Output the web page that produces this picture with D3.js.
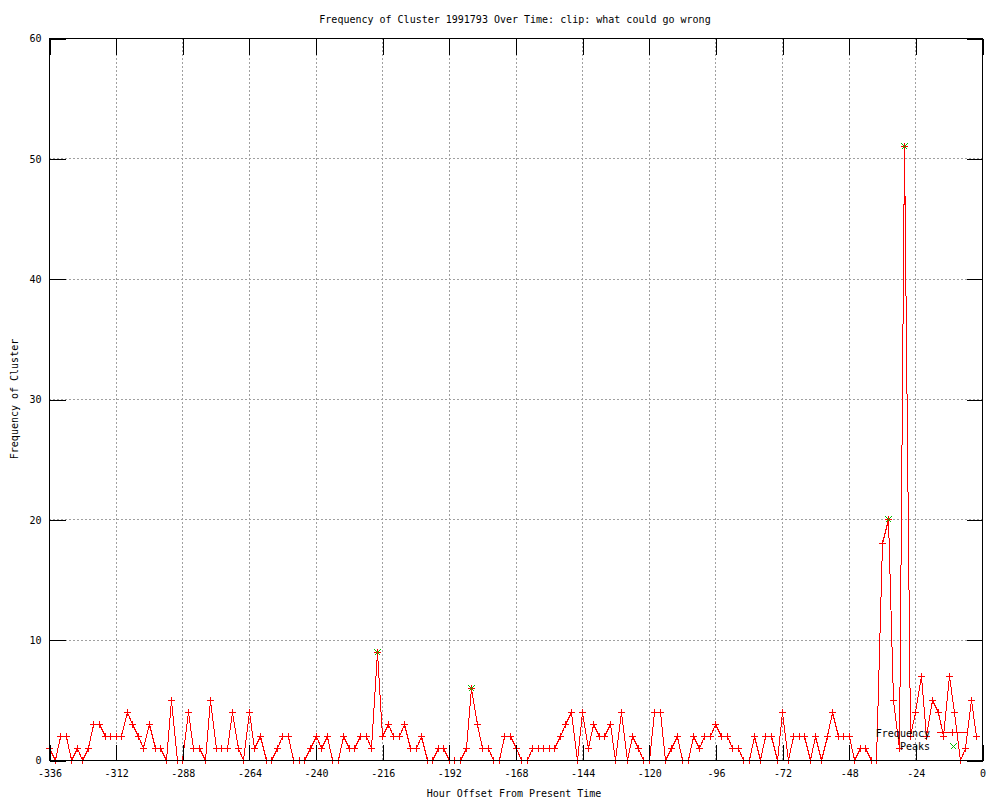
<!DOCTYPE html>
<html>
<head>
<meta charset="utf-8">
<script src="https://cdn.jsdelivr.net/npm/d3@7/dist/d3.min.js"></script>
<style>
  body { margin: 0; background: #fff; }
  text { font-family: "DejaVu Sans Mono", monospace; font-size: 10px; fill: #000; }
</style>
</head>
<body>
<svg id="chart" width="1000" height="800"></svg>
<script>
// data (one value every 2 hours, from -336 up to -2)
var startHour = -336;
var stepHours = 2;
var counts = [
  1, 0, 2, 2, 0, 1, 0, 1, 3, 3, 2, 2, 2, 2, 4, 3, 2, 1, 3, 1, 1, 0, 5, 0, 0, 4, 1, 1, 0, 5,
  1, 1, 1, 4, 1, 0, 4, 1, 2, 0, 0, 1, 2, 2, 0, 0, 0, 1, 2, 1, 2, 0, 0, 2, 1, 1, 2, 2,
  1, 9, 2, 3, 2, 2, 3, 1, 1, 2, 0, 0, 1, 1, 0, 0, 0, 1, 6, 3, 1, 1, 0, 0, 2, 2, 1, 0, 0,
  1, 1, 1, 1, 1, 2, 3, 4, 0, 4, 1, 3, 2, 2, 3, 0, 4, 0, 2, 1, 0, 0, 4, 4, 0, 1, 2, 0,
  0, 2, 1, 2, 2, 3, 2, 2, 1, 1, 0, 0, 2, 0, 2, 2, 0, 4, 0, 2, 2, 2, 0, 2, 0, 2, 4, 2, 2, 2,
  0, 1, 1, 0, 0, 18, 20, 5, 1, 51, 2, 4, 7, 2, 5, 4, 2, 7, 4, 0, 1, 5, 2
];
var peakHours = [-218, -184, -34, -28];
var peakCounts = [9, 6, 20, 51];
var xTicks = [-336, -312, -288, -264, -240, -216, -192, -168, -144, -120, -96, -72, -48, -24, 0];
var yTicks = [0, 10, 20, 30, 40, 50, 60];
var seriesNames = ["Frequency", "Peaks"];

var frequency = counts.map((c, i) => ({ h: startHour + i * stepHours, v: c }));
var peaks = peakHours.map((h, i) => ({ h: h, v: peakCounts[i] }));

var plotLeft = 49, plotRight = 982, plotTop = 38, plotBottom = 760;
var tickLen = 16;

var svg = d3.select("#chart");
var x = d3.scaleLinear().domain([-336, 0]).range([plotLeft, plotRight]);
var y = d3.scaleLinear().domain([0, 60]).range([plotBottom, plotTop]);
var px = (d) => Math.round(x(d)) + 0.5;
var py = (d) => Math.round(y(d)) + 0.5;

// grid
var grid = svg.append("g")
  .attr("stroke", "#a0a0a0")
  .attr("stroke-dasharray", "2,2")
  .attr("shape-rendering", "crispEdges");
grid.selectAll(".gx")
  .data(xTicks.slice(1, -1))
  .enter()
  .append("line")
  .attr("x1", px)
  .attr("x2", px)
  .attr("y1", plotTop)
  .attr("y2", plotBottom);
grid.selectAll(".gy")
  .data(yTicks.slice(1, -1))
  .enter()
  .append("line")
  .attr("y1", py)
  .attr("y2", py)
  .attr("x1", plotLeft)
  .attr("x2", plotRight);

// frequency line + points
var line = d3.line()
  .x((d) => px(d.h))
  .y((d) => py(d.v));
svg.append("path")
  .datum(frequency)
  .attr("d", line)
  .attr("fill", "none")
  .attr("stroke", "#ff0000")
  .attr("stroke-width", 1)
  .attr("shape-rendering", "crispEdges");

var plusPath = "M-3.5,0H3.5M0,-3.5V3.5";
var crossPath = "M-3,-3L3,3M-3,3L3,-3";

svg.append("g")
  .selectAll("path")
  .data(frequency)
  .enter()
  .append("path")
  .attr("transform", (d) => `translate(${px(d.h)},${py(d.v)})`)
  .attr("d", plusPath)
  .attr("stroke", "#ff0000")
  .attr("fill", "none")
  .attr("shape-rendering", "crispEdges");

// peaks
svg.append("g")
  .selectAll("path")
  .data(peaks)
  .enter()
  .append("path")
  .attr("transform", (d) => `translate(${px(d.h)},${py(d.v)})`)
  .attr("d", crossPath)
  .attr("stroke", "#00c000")
  .attr("fill", "none")
  .attr("shape-rendering", "crispEdges");

// legend (bottom right)
var legend = svg.append("g");
legend.selectAll("text")
  .data(seriesNames)
  .enter()
  .append("text")
  .attr("x", 930)
  .attr("y", (d, i) => 733 + i * 13)
  .attr("dy", "0.35em")
  .attr("text-anchor", "end")
  .text((d) => d);
legend.append("line")
  .attr("x1", 937).attr("x2", 968)
  .attr("y1", 732.5).attr("y2", 732.5)
  .attr("stroke", "#ff0000")
  .attr("shape-rendering", "crispEdges");
legend.append("path")
  .attr("transform", "translate(952.5,732.5)")
  .attr("d", plusPath)
  .attr("stroke", "#ff0000")
  .attr("shape-rendering", "crispEdges");
legend.append("path")
  .attr("transform", "translate(953.5,746.5)")
  .attr("d", crossPath)
  .attr("stroke", "#00c000")
  .attr("shape-rendering", "crispEdges");

// axes (ticks pointing inward, mirrored on top/right)
var fmt = (d) => String(d);
var gx = svg.append("g")
  .attr("transform", `translate(0.5,${plotBottom + 0.5})`)
  .call(d3.axisBottom(x).tickValues(xTicks).tickSizeInner(-tickLen).tickSizeOuter(0).tickPadding(9).tickFormat(fmt));
var gxTop = svg.append("g")
  .attr("transform", `translate(0.5,${plotTop + 0.5})`)
  .call(d3.axisTop(x).tickValues(xTicks).tickSizeInner(-tickLen).tickSizeOuter(0).tickFormat(""));
var gy = svg.append("g")
  .attr("transform", `translate(${plotLeft + 0.5},0.5)`)
  .call(d3.axisLeft(y).tickValues(yTicks).tickSizeInner(-tickLen).tickSizeOuter(0).tickPadding(8).tickFormat(fmt));
var gyRight = svg.append("g")
  .attr("transform", `translate(${plotRight + 0.5},0.5)`)
  .call(d3.axisRight(y).tickValues(yTicks).tickSizeInner(-tickLen).tickSizeOuter(0).tickFormat(""));
[gx, gxTop, gy, gyRight].forEach((g) => {
  g.select(".domain").remove();
  g.attr("font-family", null).attr("font-size", null);
  g.selectAll("line").attr("stroke", "#000").attr("shape-rendering", "crispEdges");
  g.selectAll("text").attr("fill", "#000");
});

svg.append("rect")
  .attr("x", plotLeft + 0.5)
  .attr("y", plotTop + 0.5)
  .attr("width", plotRight - plotLeft)
  .attr("height", plotBottom - plotTop)
  .attr("fill", "none")
  .attr("stroke", "#000")
  .attr("shape-rendering", "crispEdges");

// titles
svg.append("text")
  .attr("x", 515)
  .attr("y", 19)
  .attr("dy", "0.35em")
  .attr("text-anchor", "middle")
  .text("Frequency of Cluster 1991793 Over Time: clip: what could go wrong");
svg.append("text")
  .attr("x", 514)
  .attr("y", 793)
  .attr("dy", "0.35em")
  .attr("text-anchor", "middle")
  .text("Hour Offset From Present Time");
svg.append("text")
  .attr("transform", "translate(14,399) rotate(-90)")
  .attr("dy", "0.35em")
  .attr("text-anchor", "middle")
  .text("Frequency of Cluster");
</script>
</body>
</html>
